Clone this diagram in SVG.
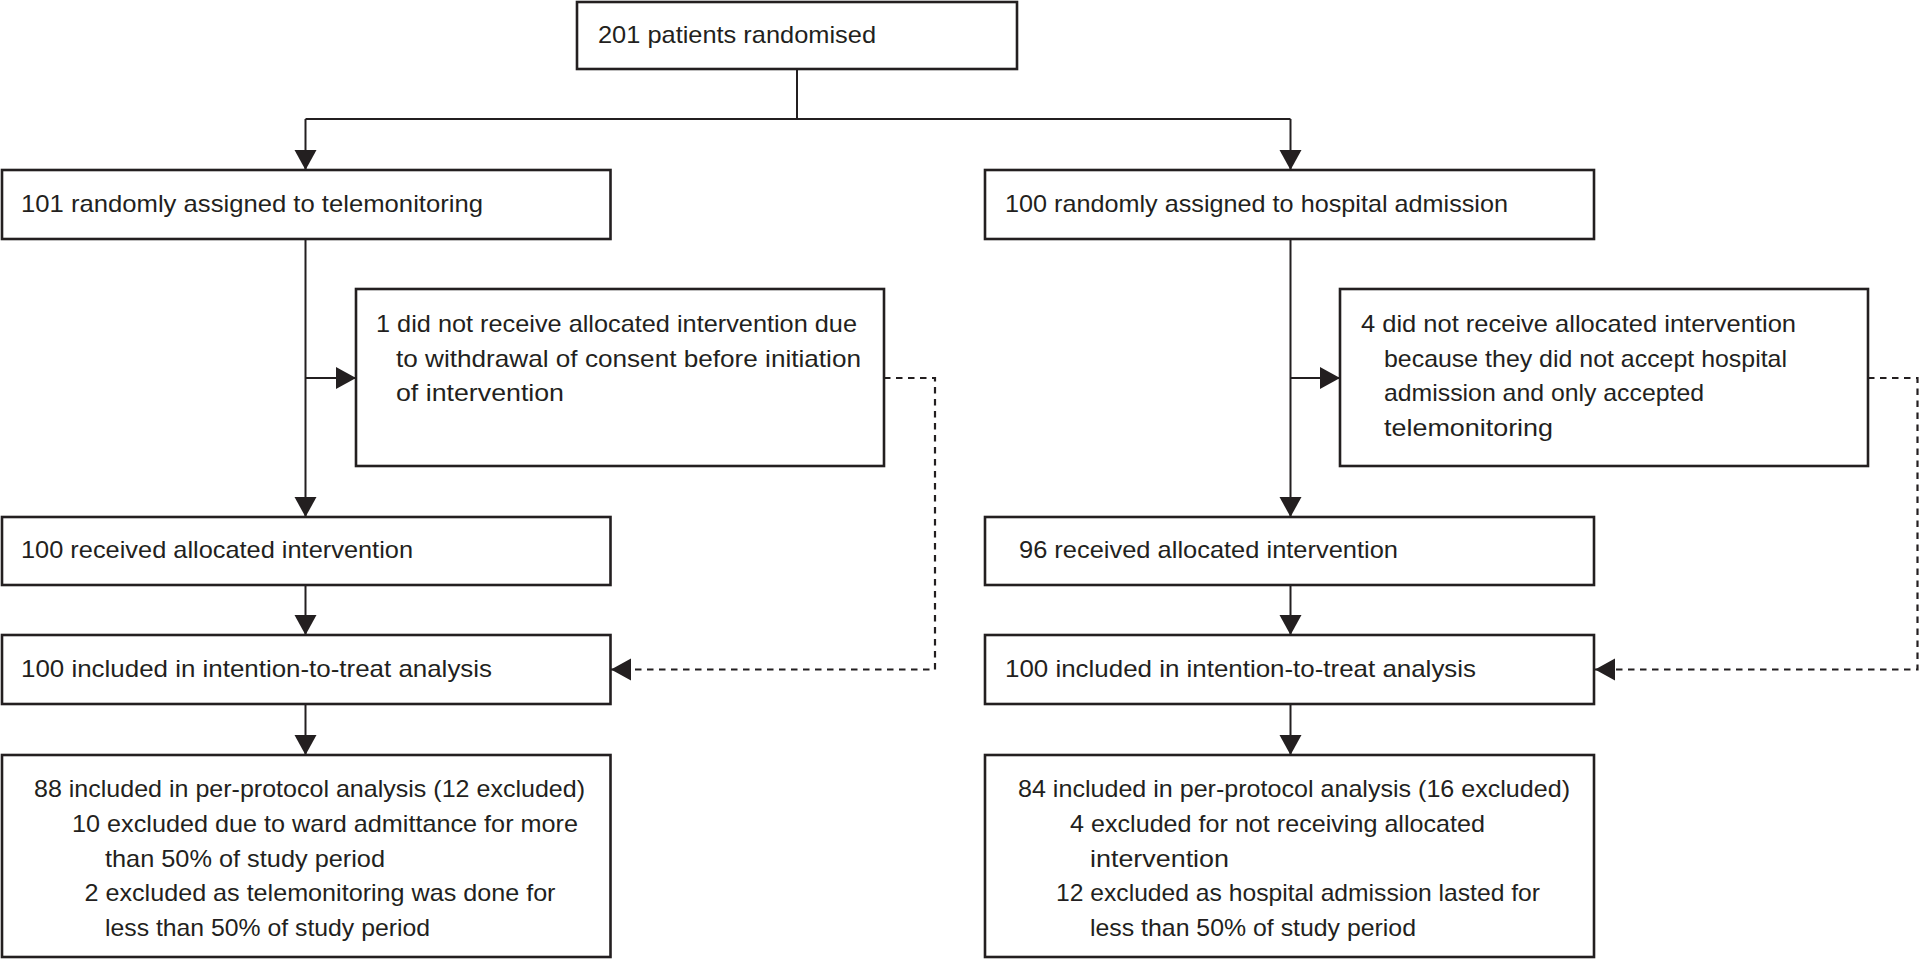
<svg xmlns="http://www.w3.org/2000/svg" width="1920" height="960" viewBox="0 0 1920 960">
<style>
.box{fill:#fff;stroke:#231f20;stroke-width:2.6}
.ln{fill:none;stroke:#231f20;stroke-width:2}
.dash{fill:none;stroke:#231f20;stroke-width:2.2;stroke-dasharray:6.5 5.5}
text{font-family:"Liberation Sans",Arial,sans-serif;font-size:24px;fill:#231f20}
</style>
<defs>
<marker id="ah" markerUnits="userSpaceOnUse" markerWidth="20" markerHeight="22" refX="20" refY="11" orient="auto" overflow="visible">
<path d="M0,0 L20,11 L0,22 Z" fill="#231f20"/>
</marker>
</defs>
<rect width="1920" height="960" fill="#fff"/>
<g id="connectors">
<path class="ln" d="M797,69 V119"/>
<path class="ln" d="M305.5,119 H1290.5"/>
<path class="ln" d="M305.5,119 V170" marker-end="url(#ah)"/>
<path class="ln" d="M1290.5,119 V170" marker-end="url(#ah)"/>
<path class="ln" d="M305.5,239 V517" marker-end="url(#ah)"/>
<path class="ln" d="M305.5,378 H356" marker-end="url(#ah)"/>
<path class="ln" d="M1290.5,239 V517" marker-end="url(#ah)"/>
<path class="ln" d="M1290.5,378 H1340" marker-end="url(#ah)"/>
<path class="ln" d="M305.5,585 V635" marker-end="url(#ah)"/>
<path class="ln" d="M305.5,704 V755" marker-end="url(#ah)"/>
<path class="ln" d="M1290.5,585 V635" marker-end="url(#ah)"/>
<path class="ln" d="M1290.5,704 V755" marker-end="url(#ah)"/>
<path class="dash" d="M884,378 H935 V669.5 H611" marker-end="url(#ah)"/>
<path class="dash" d="M1868,378 H1917.5 V669.5 H1595" marker-end="url(#ah)"/>
</g>
<g id="n-randomised">
<rect class="box" x="577" y="2" width="440" height="67"/>
<text x="598" y="42.5" textLength="278" lengthAdjust="spacingAndGlyphs">201 patients randomised</text>
</g>
<g id="n-tele">
<rect class="box" x="2" y="170" width="608.5" height="69"/>
<text x="21" y="211.5" textLength="462" lengthAdjust="spacingAndGlyphs">101 randomly assigned to telemonitoring</text>
</g>
<g id="n-hosp">
<rect class="box" x="985" y="170" width="609" height="69"/>
<text x="1005" y="211.5" textLength="503" lengthAdjust="spacingAndGlyphs">100 randomly assigned to hospital admission</text>
</g>
<g id="n-tele-excl">
<rect class="box" x="356" y="289" width="528" height="177"/>
<text x="376" y="331.5" textLength="481" lengthAdjust="spacingAndGlyphs">1 did not receive allocated intervention due</text>
<text x="396" y="366.5" textLength="465" lengthAdjust="spacingAndGlyphs">to withdrawal of consent before initiation</text>
<text x="396" y="401" textLength="168" lengthAdjust="spacingAndGlyphs">of intervention</text>
</g>
<g id="n-hosp-excl">
<rect class="box" x="1340" y="289" width="528" height="177"/>
<text x="1361" y="331.5" textLength="435" lengthAdjust="spacingAndGlyphs">4 did not receive allocated intervention</text>
<text x="1384" y="366.5" textLength="403" lengthAdjust="spacingAndGlyphs">because they did not accept hospital</text>
<text x="1384" y="401" textLength="320" lengthAdjust="spacingAndGlyphs">admission and only accepted</text>
<text x="1384" y="435.5" textLength="169" lengthAdjust="spacingAndGlyphs">telemonitoring</text>
</g>
<g id="n-tele-received">
<rect class="box" x="2" y="517" width="608.5" height="68"/>
<text x="21" y="558" textLength="392" lengthAdjust="spacingAndGlyphs">100 received allocated intervention</text>
</g>
<g id="n-hosp-received">
<rect class="box" x="985" y="517" width="609" height="68"/>
<text x="1019" y="558" textLength="379" lengthAdjust="spacingAndGlyphs">96 received allocated intervention</text>
</g>
<g id="n-tele-itt">
<rect class="box" x="2" y="635" width="608.5" height="69"/>
<text x="21" y="676.5" textLength="471" lengthAdjust="spacingAndGlyphs">100 included in intention-to-treat analysis</text>
</g>
<g id="n-hosp-itt">
<rect class="box" x="985" y="635" width="609" height="69"/>
<text x="1005" y="676.5" textLength="471" lengthAdjust="spacingAndGlyphs">100 included in intention-to-treat analysis</text>
</g>
<g id="n-tele-pp">
<rect class="box" x="2" y="755" width="608.5" height="202"/>
<text x="34" y="797" textLength="551" lengthAdjust="spacingAndGlyphs">88 included in per-protocol analysis (12 excluded)</text>
<text x="72" y="832" textLength="506" lengthAdjust="spacingAndGlyphs">10 excluded due to ward admittance for more</text>
<text x="105" y="866.5" textLength="280" lengthAdjust="spacingAndGlyphs">than 50% of study period</text>
<text x="84.5" y="901" textLength="471" lengthAdjust="spacingAndGlyphs">2 excluded as telemonitoring was done for</text>
<text x="105" y="936" textLength="325" lengthAdjust="spacingAndGlyphs">less than 50% of study period</text>
</g>
<g id="n-hosp-pp">
<rect class="box" x="985" y="755" width="609" height="202"/>
<text x="1018" y="797" textLength="552" lengthAdjust="spacingAndGlyphs">84 included in per-protocol analysis (16 excluded)</text>
<text x="1070" y="832" textLength="415" lengthAdjust="spacingAndGlyphs">4 excluded for not receiving allocated</text>
<text x="1090" y="866.5" textLength="139" lengthAdjust="spacingAndGlyphs">intervention</text>
<text x="1056" y="901" textLength="484" lengthAdjust="spacingAndGlyphs">12 excluded as hospital admission lasted for</text>
<text x="1090" y="936" textLength="326" lengthAdjust="spacingAndGlyphs">less than 50% of study period</text>
</g>
</svg>
